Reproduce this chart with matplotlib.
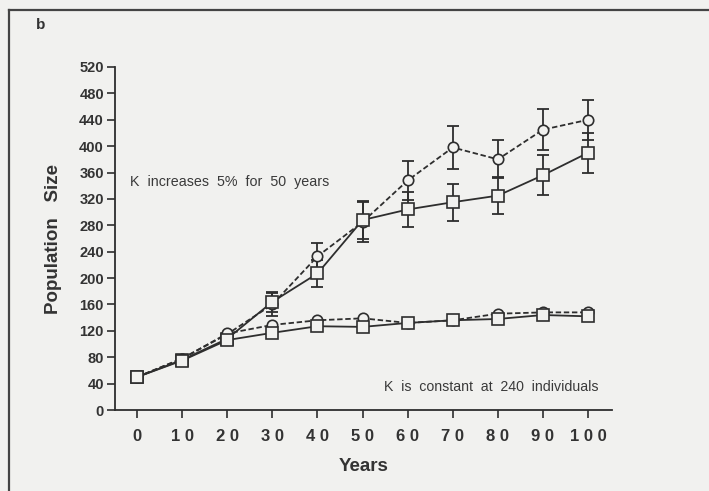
import numpy as np
import matplotlib
matplotlib.use("Agg")
import matplotlib.pyplot as plt
from matplotlib.lines import Line2D

years = [0, 10, 20, 30, 40, 50, 60, 70, 80, 90, 100]

# K increases 5% for 50 years
inc_circle = [50, 78, 115, 160, 233, 285, 348, 398, 380, 425, 440]
inc_circle_err = [0, 0, 0, 18, 20, 30, 30, 32, 29, 31, 30]
inc_square = [50, 76, 108, 164, 207, 288, 304, 315, 325, 356, 390]
inc_square_err = [0, 0, 0, 15, 20, 29, 27, 28, 28, 30, 30]

# K constant at 240 individuals
const_circle = [50, 78, 116, 129, 136, 139, 132, 136, 146, 148, 148]
const_square = [50, 75, 106, 117, 127, 126, 132, 136, 138, 144, 142]

y_ticks = list(range(0, 521, 40))
x_ticks = years

bg = "#f1f1ef"
ink = "#2e2e2e"

plt.rcParams["font.family"] = ["Liberation Sans", "DejaVu Sans"]

fig = plt.figure(figsize=(7.09, 4.91), dpi=100, facecolor=bg)
ax = fig.add_axes([115 / 709, 1 - 410 / 491, 497 / 709, 343 / 491])
ax.set_facecolor(bg)

# outer frame (top and left edges)
fig.add_artist(Line2D([9 / 709, 1.0], [1 - 10 / 491, 1 - 10 / 491],
                      transform=fig.transFigure, color="#444444", lw=1.6))
fig.add_artist(Line2D([9 / 709, 9 / 709], [0.0, 1 - 10 / 491],
                      transform=fig.transFigure, color="#444444", lw=1.6))


def draw_series(y, err, marker, ms, ls):
    x = np.array(years, dtype=float)
    y = np.array(y, dtype=float)
    if err is not None:
        e = np.array(err, dtype=float)
        m = e > 0
        ax.errorbar(x[m], y[m], yerr=e[m], fmt="none", ecolor=ink,
                    elinewidth=1.3, capsize=4.5, capthick=1.3, zorder=2)
    ax.plot(x, y, linestyle=ls, color=ink, lw=1.3, marker=marker,
            markersize=ms, markerfacecolor=bg, markeredgecolor=ink,
            markeredgewidth=1.2, zorder=3)


dash = (0, (3, 1.5))
draw_series(inc_circle, inc_circle_err, "o", 7.5, dash)
draw_series(inc_square, inc_square_err, "s", 8, "-")
draw_series(const_circle, None, "o", 7.5, dash)
draw_series(const_square, None, "s", 8, "-")

ax.set_xlim(-4.9, 105.3)
ax.set_ylim(0, 520)
ax.set_xticks(x_ticks)
ax.set_yticks(y_ticks)
ax.set_xticklabels([" ".join(str(v)) for v in x_ticks], fontsize=12,
                   fontweight="bold", color="#333333")
ax.set_yticklabels([str(v) for v in y_ticks], fontsize=10.5,
                   fontweight="bold", color="#333333")
ax.tick_params(axis="x", direction="out", length=6, width=1.2, pad=8,
               color=ink)
ax.tick_params(axis="y", direction="out", length=6, width=1.2, pad=2,
               color=ink)

for s in ("top", "right"):
    ax.spines[s].set_visible(False)
for s in ("left", "bottom"):
    ax.spines[s].set_color(ink)
    ax.spines[s].set_linewidth(1.3)

ax.set_xlabel("Years", fontsize=13.5, fontweight="bold", color="#333333",
              labelpad=10)
ax.set_ylabel("Population   Size", fontsize=13.5, fontweight="bold",
              color="#333333", labelpad=12)

ax.text(-1.6, 345, "K  increases  5%  for  50  years", fontsize=10.3,
        color="#3a3a3a", va="center", ha="left")
ax.text(102.3, 35, "K  is  constant  at  240  individuals", fontsize=10.2,
        color="#3a3a3a", va="center", ha="right")
fig.text(36 / 709, 1 - 25 / 491, "b", fontsize=11, fontweight="bold",
         color="#333333", va="center", ha="left")

fig.savefig("out.png", dpi=100, facecolor=bg)
